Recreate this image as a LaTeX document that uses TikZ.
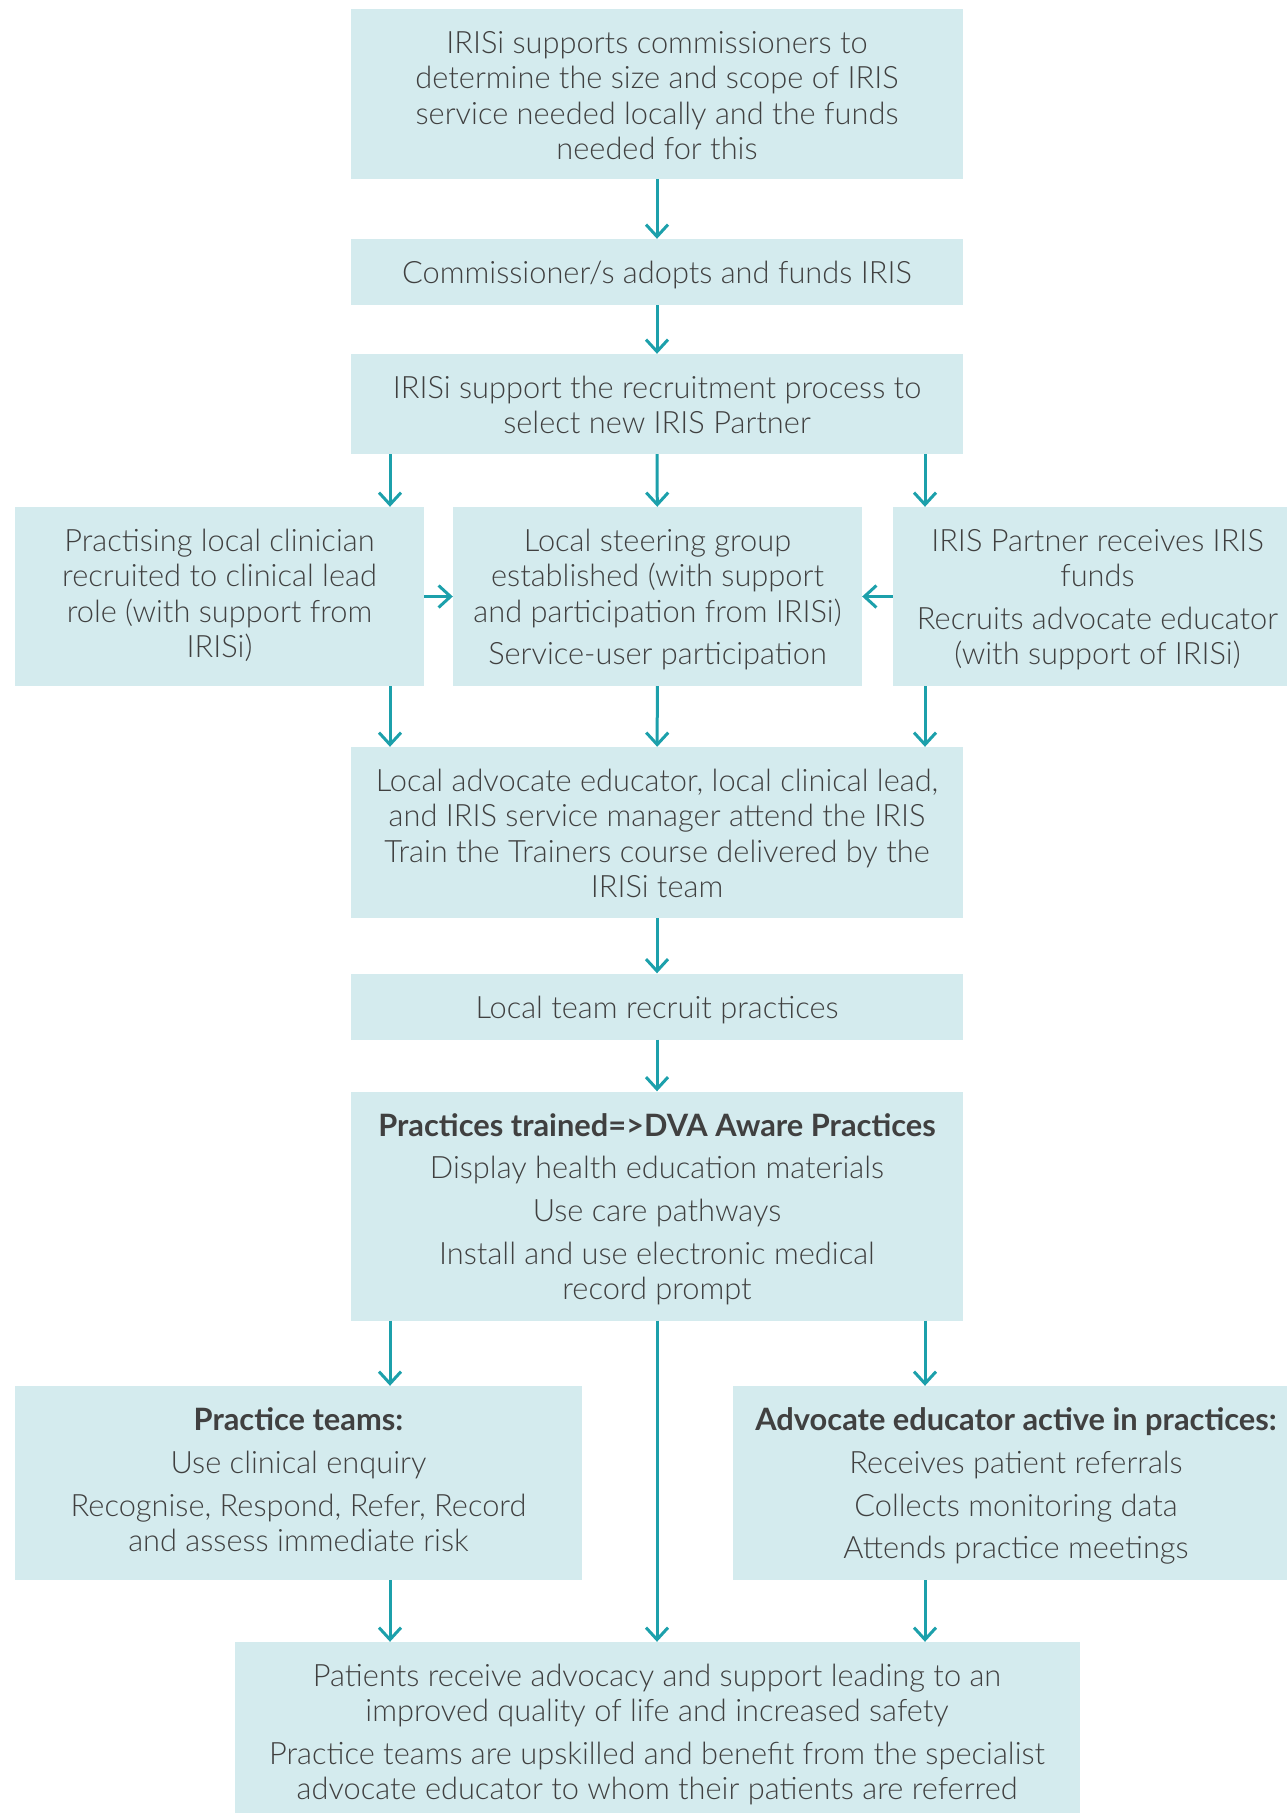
\documentclass[tikz,border=0pt]{standalone}
\usepackage{fontspec}
\setmainfont{Lato}[UprightFont={* Light},BoldFont={* Bold}]
\usetikzlibrary{arrows.meta}
\definecolor{boxfill}{HTML}{D4EBEE}
\definecolor{arrowteal}{HTML}{1CA0AB}
\definecolor{textgrey}{HTML}{404040}

\begin{document}
\begin{tikzpicture}
  [x=1pt, y=-1pt,
   every node/.style={fill=boxfill, inner sep=0pt, text=textgrey,
     font=\fontsize{30.8}{35.3}\selectfont},
   tbox/.style 2 args={execute at begin node={\begin{minipage}[c][#2][t]{#1}\centering\rule{0pt}{44.5pt}},
     execute at end node={\end{minipage}}},
   wide/.style={tbox={612pt}{#1}},
   side/.style={tbox={409pt}{179pt}},
   half/.style={tbox={567pt}{194pt}},
   flow/.style={draw=arrowteal, line width=3pt, -{Straight Barb[length=12pt,width=22pt]}}]
  \useasboundingbox (0,0) rectangle (1287,1813);
  \coordinate (lcol) at (390,0);
  \coordinate (rcol) at (925,0);
  % top column
  \node (support) [wide=170pt] at (657,94)
    {IRISi supports commissioners to\\determine the size and scope of IRIS\\service needed locally and the funds\\needed for this};
  \node (adopt) [wide=66pt] at (657,272) {Commissioner/s adopts and funds IRIS};
  \node (recruit) [wide=100pt] at (657,404)
    {IRISi support the recruitment process to\\select new IRIS Partner};
  % three boxes
  \node (clinician) [side] at (219.5,596.5)
    {Practising local clinician\\recruited to clinical lead\\role (with support from\\IRISi)};
  \node (steering) [side] at (657.5,596.5)
    {Local steering group\\established (with support\\and participation from IRISi)\\[7.5pt]Service-user participation};
  \node (partner) [side] at (1097.5,596.5)
    {IRIS Partner receives IRIS\\funds\\[7.5pt]Recruits advocate educator\\(with support of IRISi)};
  \node (train) [wide=171pt] at (657,832.5)
    {Local advocate educator, local clinical lead,\\and IRIS service manager attend the IRIS\\Train the Trainers course delivered by the\\IRISi team};
  \node (team) [wide=66pt] at (657,1006.5) {Local team recruit practices};
  \node (trained) [wide=229pt] at (657,1206)
    {\textbf{Practices trained=>DVA Aware Practices}\\[7.5pt]Display health education materials\\[7.5pt]Use care pathways\\[7.5pt]Install and use electronic medical\\record prompt};
  % two boxes
  \node (teams) [half] at (298.5,1483)
    {\textbf{Practice teams:}\\[7.5pt]Use clinical enquiry\\[7.5pt]Recognise, Respond, Refer, Record\\and assess immediate risk};
  \node (educator) [half] at (1016,1483)
    {\textbf{Advocate educator active in practices:}\\[7.5pt]Receives patient referrals\\[7.5pt]Collects monitoring data\\[7.5pt]Attends practice meetings};
  \node (outcome) [tbox={845pt}{180pt}] at (657,1732)
    {Patients receive advocacy and support leading to an\\improved quality of life and increased safety\\[7.5pt]Practice teams are upskilled and benefit from the specialist\\advocate educator to whom their patients are referred};
  % arrows
  \draw [flow] (support) -- (adopt);
  \draw [flow] (adopt) -- (recruit);
  \draw [flow] (recruit.south -| lcol) -- (clinician.north -| lcol);
  \draw [flow] (recruit) -- (steering);
  \draw [flow] (recruit.south -| rcol) -- (partner.north -| rcol);
  \draw [flow] (clinician) -- (steering);
  \draw [flow] (partner) -- (steering);
  \draw [flow] (clinician.south -| lcol) -- (train.north -| lcol);
  \draw [flow] (steering) -- (train);
  \draw [flow] (partner.south -| rcol) -- (train.north -| rcol);
  \draw [flow] (train) -- (team);
  \draw [flow] (team) -- (trained);
  \draw [flow] (trained.south -| lcol) -- (teams.north -| lcol);
  \draw [flow] (trained) -- (outcome);
  \draw [flow] (trained.south -| rcol) -- (educator.north -| rcol);
  \draw [flow] (teams.south -| lcol) -- (outcome.north -| lcol);
  \draw [flow] (educator.south -| rcol) -- (outcome.north -| rcol);
\end{tikzpicture}
\end{document}
